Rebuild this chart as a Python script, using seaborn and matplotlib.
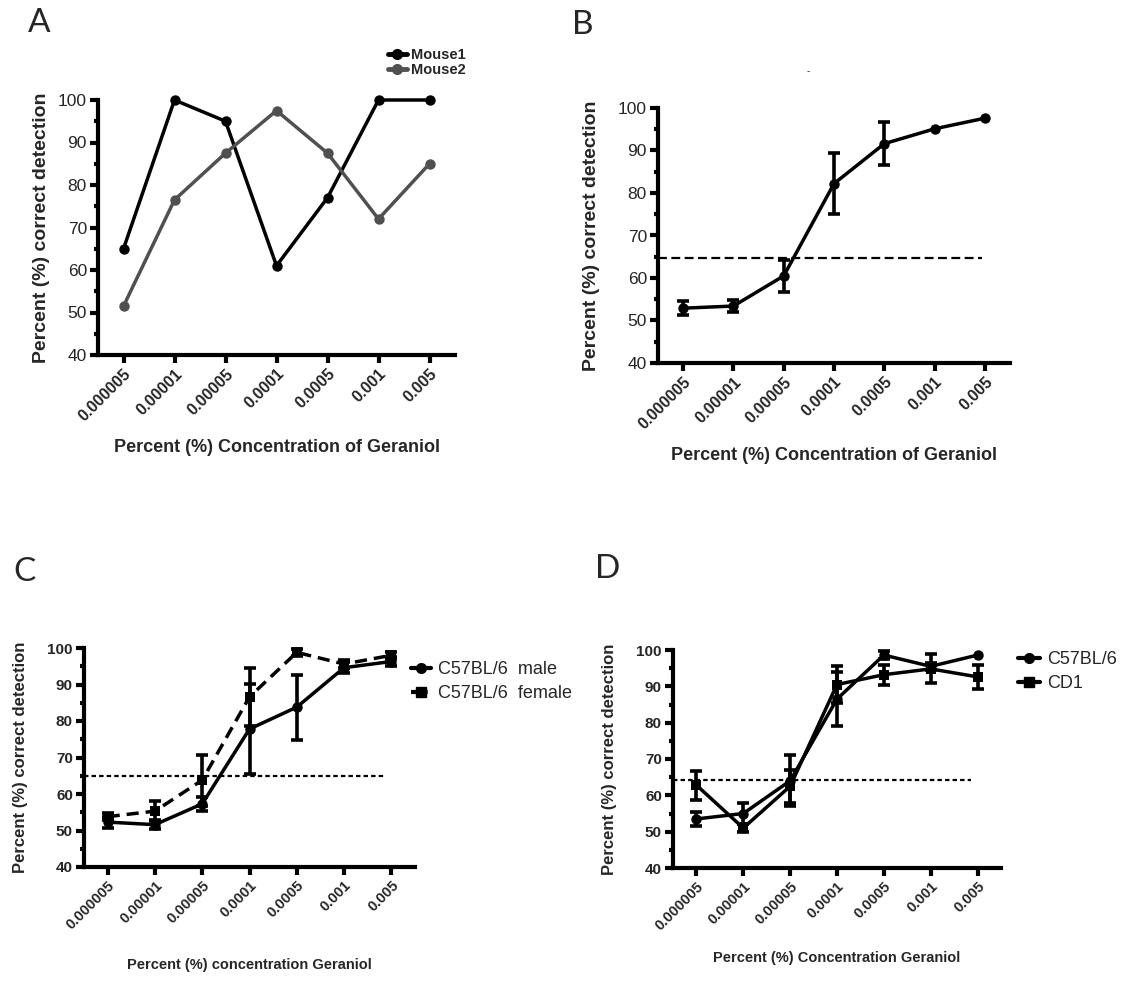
import numpy as np
import pandas as pd
import seaborn as sns
import matplotlib.pyplot as plt
from matplotlib.ticker import MultipleLocator
from matplotlib.lines import Line2D

# values
concentrations = ["0.000005", "0.00001", "0.00005", "0.0001", "0.0005", "0.001", "0.005"]

mouse1 = [65, 100, 95, 61, 77, 100, 100]
mouse2 = [51.5, 76.5, 87.5, 97.5, 87.5, 72, 85]

b_mean = [52.9, 53.4, 60.5, 82.2, 91.6, 95.1, 97.6]
b_err = [1.6, 1.4, 3.8, 7.1, 5.0, np.nan, np.nan]
b_threshold = 64.6

c_male = [52.3, 51.6, 57.3, 77.8, 83.8, 94.6, 96.3]
c_male_err = [1.5, 1.2, 2.0, 12.3, 8.9, 1.5, 1.3]
c_female = [53.8, 55.3, 63.8, 86.6, 98.8, 95.6, 98.0]
c_female_err = [1.0, 2.8, 7.0, 7.9, 1.0, 1.0, 1.0]
c_threshold = 65

d_c57 = [53.5, 55.0, 64.0, 86.5, 98.6, 95.5, 98.6]
d_c57_err = [2.0, 3.0, 7.0, 7.5, 1.0, 1.0, np.nan]
d_cd1 = [62.8, 51.0, 62.5, 90.5, 93.2, 94.8, 92.6]
d_cd1_err = [4.0, 1.0, 4.5, 5.0, 2.7, 4.0, 3.4]
d_threshold = 64.2

sns.set_style("ticks")
plt.rcParams['font.family'] = ['Liberation Sans', 'DejaVu Sans']

W, H = 1129, 983
fig = plt.figure(figsize=(W / 100, H / 100), dpi=100)
pos = np.arange(len(concentrations))


def add_panel(left, right, top, bottom):
    return fig.add_axes([left / W, 1 - bottom / H, (right - left) / W, (bottom - top) / H])


def style_axis(ax, bold_y, yfs, xfs, xlabel, xlfs, ylfs, xpad, ypad):
    ax.set_xlim(-0.5, 6.5)
    ax.set_ylim(40, 100)
    ax.yaxis.set_major_locator(MultipleLocator(10))
    ax.yaxis.set_minor_locator(MultipleLocator(5))
    for side in ["top", "right"]:
        ax.spines[side].set_visible(False)
    for side in ["left", "bottom"]:
        ax.spines[side].set_linewidth(3)
        ax.spines[side].set_color("black")
    ax.tick_params(axis="both", which="major", width=3, length=6, direction="out",
                   color="black", pad=2)
    ax.tick_params(axis="y", which="minor", width=3, length=3, color="black")
    ax.set_xticks(pos)
    ax.set_xticklabels(concentrations, rotation=45, ha="right", rotation_mode="anchor",
                       fontweight="bold", fontsize=xfs)
    ax.set_yticks(np.arange(40, 101, 10))
    ax.set_yticklabels([str(v) for v in range(40, 101, 10)], fontsize=yfs,
                       fontweight="bold" if bold_y else "normal")
    ax.set_xlabel(xlabel, fontweight="bold", fontsize=xlfs, labelpad=xpad)
    ax.set_ylabel("Percent (%) correct detection", fontweight="bold", fontsize=ylfs,
                  labelpad=ypad)


def draw_series(ax, values, marker, color="black", dashed=None):
    df = pd.DataFrame({"pos": pos, "value": values})
    sns.lineplot(data=df, x="pos", y="value", ax=ax, color=color, marker=marker,
                 markersize=7.5, markeredgewidth=0, linewidth=2.5, errorbar=None)
    line = ax.lines[-1]
    line.set_clip_on(False)
    if dashed is not None:
        line.set_dashes(dashed)


def draw_errors(ax, values, errors):
    ax.errorbar(pos, values, yerr=errors, fmt="none", ecolor="black", elinewidth=2.6,
                capsize=4.5, capthick=2.6, clip_on=False)


# ---- A
axA = add_panel(98, 455, 100, 355)
draw_series(axA, mouse1, "o", "black")
draw_series(axA, mouse2, "o", "#505050")
style_axis(axA, False, 12.5, 11.5, "Percent (%) Concentration of Geraniol", 13, 14, 11, 6)
handles = [Line2D([], [], color="black", lw=3.5, marker="o", ms=7),
           Line2D([], [], color="#505050", lw=3.5, marker="o", ms=7)]
fig.legend(handles, ["Mouse1", "Mouse2"], loc="upper left",
           bbox_to_anchor=(388 / W, 1 - 48 / H), frameon=False,
           prop={"weight": "bold", "size": 10.5}, handlelength=1.3,
           handletextpad=0.3, labelspacing=0.05, borderpad=0, borderaxespad=0)

# ---- B
axB = add_panel(658, 1010, 108, 363)
axB.axhline(b_threshold, xmin=0, xmax=0.92, color="black", lw=1.6, dashes=(4, 2))
draw_errors(axB, b_mean, b_err)
draw_series(axB, b_mean, "o")
style_axis(axB, False, 12.5, 11.5, "Percent (%) Concentration of Geraniol", 13, 14, 11, 13)
fig.text(808 / W, 1 - 71 / H, "-", fontsize=7, ha="center", va="center")

# ---- C
axC = add_panel(84, 415, 648, 867)
axC.axhline(c_threshold, xmin=0, xmax=0.907, color="black", lw=1.6, dashes=(2, 1.4))
draw_errors(axC, c_male, c_male_err)
draw_errors(axC, c_female, c_female_err)
draw_series(axC, c_male, "o")
draw_series(axC, c_female, "s", dashed=(3.5, 2))
style_axis(axC, True, 11, 10.5, "Percent (%) concentration Geraniol", 10.5, 12, 19, 14)
handles = [Line2D([], [], color="black", lw=3, marker="o", ms=7),
           Line2D([], [], color="black", lw=3, marker="s", ms=7, dashes=(1.5, 1))]
fig.legend(handles, ["C57BL/6  male", "C57BL/6  female"], loc="upper left",
           bbox_to_anchor=(411 / W, 1 - 661 / H), frameon=False,
           prop={"size": 13}, handlelength=1.1, handletextpad=0.4,
           labelspacing=0.4, borderpad=0, borderaxespad=0)

# ---- D
axD = add_panel(673, 1001, 650, 868)
axD.axhline(d_threshold, xmin=0, xmax=0.909, color="black", lw=1.6, dashes=(2, 1.4))
draw_errors(axD, d_c57, d_c57_err)
draw_errors(axD, d_cd1, d_cd1_err)
draw_series(axD, d_c57, "o")
draw_series(axD, d_cd1, "s")
style_axis(axD, True, 11, 10.5, "Percent (%) Concentration Geraniol", 10.5, 12, 13, 14)
handles = [Line2D([], [], color="black", lw=3, marker="o", ms=7),
           Line2D([], [], color="black", lw=3, marker="s", ms=7)]
fig.legend(handles, ["C57BL/6", "CD1"], loc="upper left",
           bbox_to_anchor=(1018 / W, 1 - 651 / H), frameon=False,
           prop={"size": 13}, handlelength=1.2, handletextpad=0.4,
           labelspacing=0.4, borderpad=0, borderaxespad=0)

# panel letters
for letter, x, y in [("A", 28, 23), ("B", 572, 25), ("C", 13, 572), ("D", 595, 569)]:
    fig.text(x / W, 1 - y / H, letter, fontsize=24, family=["Lato", "DejaVu Sans"],
             ha="left", va="center")

fig.savefig("out.png", dpi=100)
